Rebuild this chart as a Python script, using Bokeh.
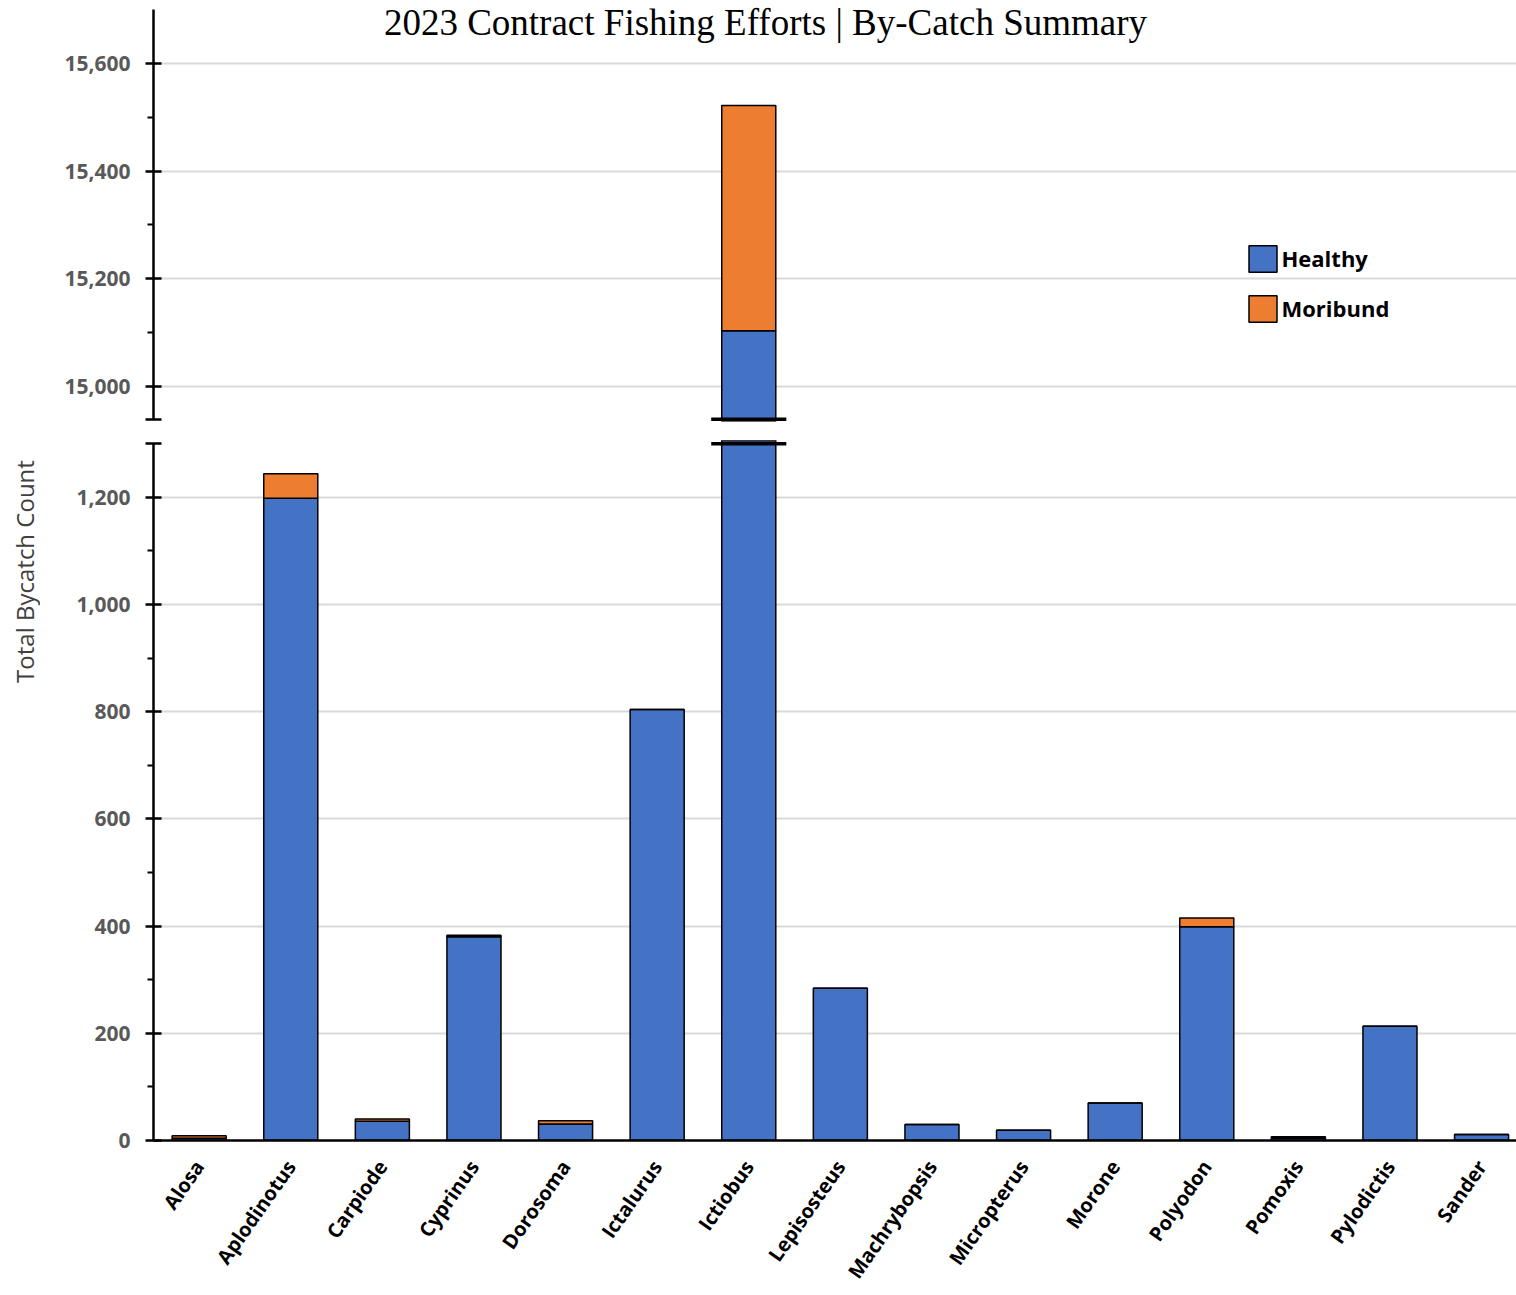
import math

from bokeh.core.properties import value
from bokeh.embed import file_html
from bokeh.layouts import column, row
from bokeh.models import (CDSView, ColumnDataSource, FixedTicker, IndexFilter,
                          Legend, LegendItem, NumeralTickFormatter, Range1d)
from bokeh.plotting import figure
from bokeh.resources import INLINE

# --- By-catch counts per genus -------------------------------------------
genera = ["Alosa", "Aplodinotus", "Carpiode", "Cyprinus", "Dorosoma",
          "Ictalurus", "Ictiobus", "Lepisosteus", "Machrybopsis",
          "Micropterus", "Morone", "Polyodon", "Pomoxis", "Pylodictis",
          "Sander"]
healthy = [4, 1198, 36, 380, 31, 804, 15103, 284, 30, 19, 70, 399, 4, 213, 11]
moribund = [5, 46, 4, 3, 6, 0, 419, 0, 0, 0, 0, 16, 3, 0, 0]

# --- Axis ticks for the two panels of the broken value axis ----------------
upper_ticks = [15000, 15200, 15400, 15600]
upper_minor = [15100, 15300, 15500]
lower_ticks = [0, 200, 400, 600, 800, 1000, 1200]
lower_minor = [100, 300, 500, 700, 900, 1100]

LOWER_TOP = 1300        # lower panel axis ends here
UPPER_BOTTOM = 14938    # upper panel axis starts here
UPPER_TOP = 15700

TITLE = "2023 Contract Fishing Efforts | By-Catch Summary"
BLUE = "#4472C4"
ORANGE = "#ED7D31"
GRID = "#D9D9D9"
TICK_GREY = "#595959"

# --- Geometry -------------------------------------------------------------
PAGE_W, PAGE_H = 1516, 1295
LABEL_COL_W = 40          # strip holding the shared y-axis title
AXIS_W = 113              # room for the y tick labels
FRAME_W = PAGE_W - LABEL_COL_W - AXIS_W
PX_PER_CAT = 91.6
X_START = -0.4985
X_END = X_START + FRAME_W / PX_PER_CAT

UPPER_H, UPPER_GAP = 421, 19
LOWER_H, LOWER_BOTTOM = 700, 155
UNITS_PER_PX_UP = 200 / 107.5
UNITS_PER_PX_LO = 200 / 107.2
UP_END = 15600 + 63 * UNITS_PER_PX_UP
UP_START = UP_END - UPPER_H * UNITS_PER_PX_UP
LO_END = LOWER_H * UNITS_PER_PX_LO

xs = list(range(len(genera)))
totals = [h + m for h, m in zip(healthy, moribund)]
source = ColumnDataSource(dict(x=xs, genus=genera, healthy=healthy,
                               moribund=moribund, total=totals))

# bars that run through the axis break get a break mark and an upper part
broken = [i for i, t in enumerate(totals) if t > LOWER_TOP]
brk_src = ColumnDataSource(dict(x0=[xs[i] - 0.41 for i in broken],
                                x1=[xs[i] + 0.41 for i in broken]))


def style_value_axis(p, ticks, minor, cap, bounds):
    ax = p.yaxis[0]
    ax.ticker = FixedTicker(ticks=sorted(ticks + [cap]), minor_ticks=minor)
    ax.formatter = NumeralTickFormatter(format="0,0")
    ax.major_label_overrides = {cap: ""}
    ax.bounds = bounds
    ax.axis_line_color = "black"
    ax.axis_line_width = 2.5
    ax.major_tick_line_color = "black"
    ax.major_tick_line_width = 2.5
    ax.major_tick_in = 8
    ax.major_tick_out = 8
    ax.minor_tick_line_color = "black"
    ax.minor_tick_line_width = 2
    ax.minor_tick_in = 0
    ax.minor_tick_out = 6
    ax.major_label_standoff = 15
    ax.major_label_text_font = "Open Sans"
    ax.major_label_text_font_style = "bold"
    ax.major_label_text_font_size = "21px"
    ax.major_label_text_color = TICK_GREY
    p.ygrid.ticker = FixedTicker(ticks=ticks)
    p.ygrid.grid_line_color = GRID
    p.ygrid.grid_line_width = 2
    p.xgrid.grid_line_color = None


def stacked_bars(p, view=None):
    extra = {} if view is None else {"view": view}
    return p.vbar_stack(["healthy", "moribund"], x="x", width=0.59,
                        source=source, color=[BLUE, ORANGE],
                        line_color="black", line_width=1.5, **extra)


# --- Upper panel (15,000+) ----------------------------------------------
upper = figure(width=PAGE_W - LABEL_COL_W, height=UPPER_H + UPPER_GAP,
               x_range=Range1d(X_START, X_END),
               y_range=Range1d(UP_START, UP_END),
               x_axis_location=None, title=None, toolbar_location=None,
               output_backend="svg", min_border_left=AXIS_W,
               min_border_right=0, min_border_top=0,
               min_border_bottom=UPPER_GAP)
upper.outline_line_color = None
style_value_axis(upper, upper_ticks, upper_minor, UPPER_BOTTOM,
                 (UPPER_BOTTOM, UPPER_TOP))
up_bars = stacked_bars(upper, CDSView(filter=IndexFilter(broken)))
upper.segment(x0="x0", x1="x1", y0=UPPER_BOTTOM, y1=UPPER_BOTTOM,
              source=brk_src, line_color="black", line_width=3.5)

upper.text(x=[(765 - 198.7) / PX_PER_CAT], y=[UP_END - 22 * UNITS_PER_PX_UP],
           text=[TITLE], text_font=value("Liberation Serif"),
           text_font_size="37px", text_align="center",
           text_baseline="alphabetic", text_color="black")

legend = Legend(items=[LegendItem(label="Healthy", renderers=[up_bars[0]]),
                       LegendItem(label="Moribund", renderers=[up_bars[1]])],
                location=(1091.5, 96.5), glyph_width=35, glyph_height=33,
                spacing=17, padding=0, margin=0, label_standoff=2,
                label_text_font="Open Sans", label_text_font_style="bold",
                label_text_font_size="22px", label_text_color="black",
                background_fill_alpha=0, border_line_color=None)
upper.add_layout(legend)

# --- Lower panel (0 - 1,300) ---------------------------------------------
lower = figure(width=PAGE_W - LABEL_COL_W, height=LOWER_H + LOWER_BOTTOM,
               x_range=upper.x_range, y_range=Range1d(0, LO_END),
               title=None, toolbar_location=None, output_backend="svg",
               min_border_left=AXIS_W, min_border_right=0, min_border_top=0,
               min_border_bottom=LOWER_BOTTOM)
lower.outline_line_color = None
style_value_axis(lower, lower_ticks, lower_minor, LOWER_TOP, (0, LOWER_TOP))
stacked_bars(lower)
lower.segment(x0="x0", x1="x1", y0=LOWER_TOP, y1=LOWER_TOP,
              source=brk_src, line_color="black", line_width=3.5)

xax = lower.xaxis[0]
xax.ticker = FixedTicker(ticks=xs)
xax.major_label_overrides = {i: g for i, g in zip(xs, genera)}
xax.major_label_orientation = math.radians(55)
xax.major_tick_line_color = None
xax.minor_tick_line_color = None
xax.axis_line_color = "black"
xax.axis_line_width = 2.5
xax.major_label_standoff = 16
xax.major_label_text_font = "Open Sans"
xax.major_label_text_font_style = "bold"
xax.major_label_text_font_size = "20px"
xax.major_label_text_color = "black"

# --- Shared y-axis title ---------------------------------------------------
ytitle = figure(width=LABEL_COL_W, height=PAGE_H,
                x_range=Range1d(0, LABEL_COL_W), y_range=Range1d(0, PAGE_H),
                x_axis_location=None, y_axis_location=None, title=None,
                toolbar_location=None, output_backend="svg",
                min_border_left=0, min_border_right=0, min_border_top=0,
                min_border_bottom=0)
ytitle.outline_line_color = None
ytitle.grid.visible = False
ytitle.text(x=[24], y=[PAGE_H - 571], text=["Total Bycatch Count"],
            angle=math.pi / 2, text_font=value("Open Sans"),
            text_font_size="24px", text_align="center",
            text_baseline="middle", text_color="#404040")

layout = row(ytitle, column(upper, lower))

with open("out.html", "w") as f:
    f.write(file_html(layout, INLINE))
